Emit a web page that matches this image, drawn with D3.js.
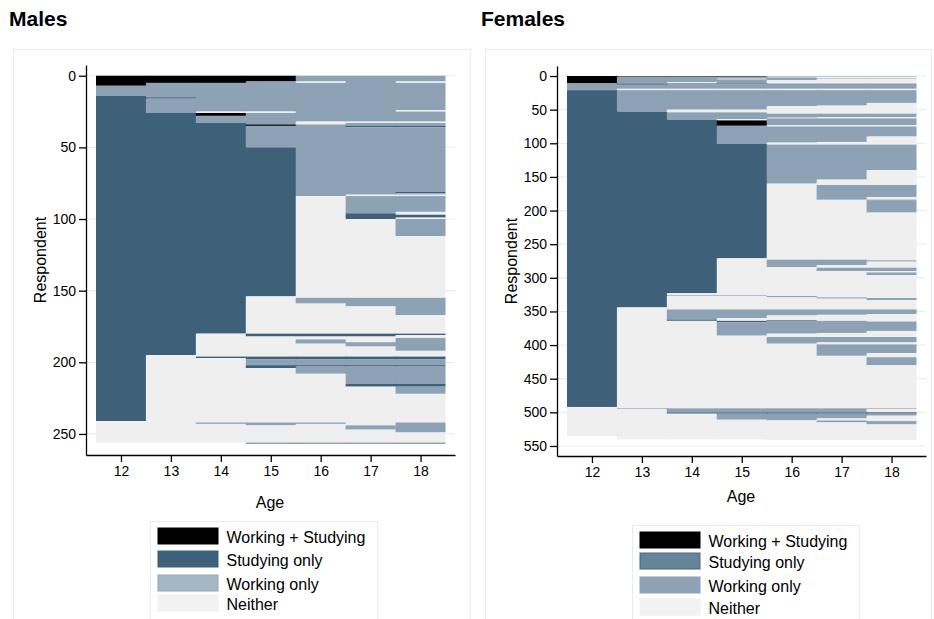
<!DOCTYPE html>
<html>
<head>
<meta charset="utf-8">
<script src="https://cdn.jsdelivr.net/npm/d3@7/dist/d3.min.js"></script>
<style>
  body { margin: 0; background: #fff; }
  svg text { font-family: "Liberation Sans", Arial, sans-serif; fill: #000; }
</style>
</head>
<body>
<svg id="chart" width="934" height="619"></svg>
<script>
// ages on the x axis
const ages = [12, 13, 14, 15, 16, 17, 18];

// state codes and their legend labels
const stateCodes = ["B", "S", "W", "N"];
const stateLabels = ["Working + Studying", "Studying only", "Working only", "Neither"];

// runs per age column: [state, last respondent (exclusive)]; rows after the last run are missing
const maleRuns = [
  [["B",7],["W",14],["S",241],["N",256]],
  [["B",5],["W",15],["S",16],["W",26],["S",195],["N",256]],
  [["B",5],["W",25],["N",26],["B",28],["W",33],["S",180],["N",196],["S",197],["N",242],["W",243],["N",256]],
  [["B",4],["W",25],["N",26],["W",34],["B",35],["W",50],["S",154],["N",180],["S",182],["N",196],["S",198],["W",202],["S",204],["N",242],["W",244],["N",256],["W",257]],
  [["W",4],["N",5],["W",32],["N",34],["W",84],["N",155],["W",159],["N",180],["S",182],["N",184],["W",187],["N",196],["S",198],["W",202],["S",203],["W",208],["N",242],["W",243],["N",256],["W",257]],
  [["W",32],["N",33],["W",35],["S",36],["W",83],["N",84],["W",96],["S",100],["N",155],["W",161],["N",180],["S",182],["N",186],["W",189],["N",196],["S",198],["W",202],["S",203],["W",215],["S",217],["N",244],["W",247],["N",256],["W",257]],
  [["W",4],["N",5],["W",24],["N",25],["W",32],["N",33],["W",35],["S",36],["W",81],["S",82],["W",83],["N",84],["W",95],["N",97],["S",99],["N",100],["W",112],["N",155],["W",167],["N",180],["S",181],["N",183],["W",192],["N",196],["S",198],["W",202],["S",203],["W",215],["S",217],["W",222],["N",242],["W",249],["N",256],["W",257]]
];

const femaleRuns = [
  [["B",11],["W",21],["S",492],["N",535]],
  [["B",1],["W",11],["S",13],["W",19],["N",21],["W",53],["S",344],["N",494],["W",495],["N",540]],
  [["B",1],["W",9],["N",11],["S",12],["W",19],["N",21],["W",50],["N",54],["W",65],["S",323],["N",326],["W",327],["N",347],["W",362],["S",364],["N",494],["W",500],["S",502],["N",540]],
  [["B",1],["W",4],["N",5],["W",11],["S",12],["W",19],["N",21],["W",50],["N",54],["W",64],["N",66],["B",74],["W",101],["S",271],["N",326],["W",327],["N",347],["W",360],["N",364],["S",366],["W",386],["N",494],["W",500],["S",502],["W",511],["N",540]],
  [["W",1],["N",2],["W",6],["N",11],["W",19],["N",21],["W",45],["N",56],["W",62],["N",63],["W",73],["N",75],["W",99],["N",102],["W",160],["N",273],["W",284],["N",327],["W",329],["N",347],["W",356],["N",363],["S",364],["W",383],["N",388],["W",398],["N",494],["W",500],["S",502],["W",512],["N",541]],
  [["W",1],["N",3],["W",4],["N",11],["W",19],["N",21],["W",44],["N",56],["W",61],["N",63],["W",73],["N",75],["W",98],["N",102],["W",154],["N",162],["W",184],["N",273],["W",281],["N",285],["W",290],["N",329],["W",331],["N",347],["W",355],["N",364],["W",382],["N",388],["W",396],["N",399],["W",416],["N",494],["W",500],["S",502],["W",509],["N",512],["W",515],["N",541]],
  [["W",1],["N",3],["W",4],["N",11],["W",19],["N",21],["W",40],["N",56],["W",61],["N",63],["W",73],["N",75],["W",90],["N",102],["W",140],["N",162],["W",180],["N",184],["S",185],["W",203],["N",274],["W",276],["N",285],["W",290],["N",292],["W",296],["N",330],["W",333],["N",347],["W",354],["N",365],["W",379],["N",388],["W",396],["N",399],["W",412],["N",418],["W",430],["N",494],["W",495],["N",500],["S",502],["W",505],["N",513],["W",518],["N",541]]
];

// y tick values
const maleTicks = [0, 50, 100, 150, 200, 250];
const femaleTicks = [0, 50, 100, 150, 200, 250, 300, 350, 400, 450, 500, 550];

const barColor = d3.scaleOrdinal()
  .domain(stateCodes)
  .range(["#000000", "#3e6179", "#8da2b5", "#efefef"]);

const svg = d3.select("#chart");

function drawPanel(p) {
  // panel frame
  svg.append("rect")
    .attr("x", p.frame[0]).attr("y", p.frame[1])
    .attr("width", p.frame[2]).attr("height", p.frame[3])
    .attr("fill", "none").attr("stroke", "#e4eded").attr("stroke-width", 1);

  svg.append("text")
    .attr("x", p.titleX).attr("y", 26)
    .style("font-size", "21px").style("font-weight", "bold")
    .text(p.title);

  const g = svg.append("g").attr("transform", `translate(${p.left},${p.top})`);

  const x = d3.scaleLinear().domain([11.3, 18.69]).range([0, 369]);
  const y = d3.scaleLinear().domain(p.yDomain).range([0, 390]);

  // gridlines
  g.append("g")
    .selectAll("line")
    .data(p.ticks)
    .join("line")
    .attr("x1", 0).attr("x2", 369)
    .attr("y1", d => y(d)).attr("y2", d => y(d))
    .attr("stroke", "#e6eff1").attr("stroke-width", 1.2);

  // sequence bars
  const cells = [];
  p.runs.forEach((runs, i) => {
    let start = 0;
    runs.forEach(([code, end]) => {
      cells.push({ age: ages[i], code: code, start: start, end: end, last: i === ages.length - 1 });
      start = end;
    });
  });

  // columns overlap a little so no seams show between ages
  g.append("g")
    .selectAll("rect")
    .data(cells)
    .join("rect")
    .attr("x", d => x(d.age - 0.5))
    .attr("width", d => x(d.age + 0.5) - x(d.age - 0.5) + (d.last ? 0 : 0.8))
    .attr("y", d => y(d.start))
    .attr("height", d => y(d.end) - y(d.start))
    .attr("fill", d => barColor(d.code));

  // axes
  const yAxis = g.append("g")
    .call(d3.axisLeft(y).tickValues(p.ticks).tickSize(7).tickSizeOuter(0).tickPadding(3));
  yAxis.selectAll("text").style("font-size", "14px");

  const xAxis = g.append("g")
    .attr("transform", "translate(0,390)")
    .call(d3.axisBottom(x).tickValues(ages).tickSize(7).tickSizeOuter(0).tickPadding(4));
  xAxis.selectAll("text").style("font-size", "14px");

  svg.selectAll(".domain, .tick line").attr("stroke", "#000").attr("stroke-width", 1.3);

  g.append("text")
    .attr("transform", `translate(${-40},195)rotate(-90)`)
    .attr("text-anchor", "middle")
    .style("font-size", "16px")
    .text("Respondent");

  g.append("text")
    .attr("x", 184).attr("y", p.ageY)
    .attr("text-anchor", "middle")
    .style("font-size", "16px")
    .text("Age");

  // legend
  const lg = svg.append("g").attr("transform", `translate(${p.legend[0]},${p.legend[1]})`);
  lg.append("rect")
    .attr("x", 0).attr("y", 0).attr("width", 227).attr("height", 110)
    .attr("fill", "#fff").attr("stroke", "#e4eded");

  const item = lg.selectAll("g.item")
    .data(stateLabels)
    .join("g")
    .attr("class", "item")
    .attr("transform", (d, i) => `translate(7,${p.legendRows[i]})`);

  item.append("rect")
    .attr("x", 0.5).attr("y", 0.5).attr("width", 60).attr("height", 16)
    .attr("fill", (d, i) => p.legendFill[i])
    .attr("stroke", (d, i) => p.legendStroke[i]);

  item.append("text")
    .attr("x", 69).attr("y", 15)
    .style("font-size", "16px")
    .text(d => d);
}

drawPanel({
  title: "Males", titleX: 9,
  frame: [13.5, 49.5, 457, 580],
  left: 86, top: 65,
  yDomain: [-7.5, 264.7],
  ticks: maleTicks,
  runs: maleRuns,
  ageY: 443,
  legend: [150.5, 521.5],
  legendRows: [6, 29, 53, 73],
  legendFill: ["#000000", "#3e6179", "#a5b6c5", "#f2f2f2"],
  legendStroke: ["#000000", "#3e6179", "#93a7b8", "#f2f2f2"]
});

drawPanel({
  title: "Females", titleX: 481,
  frame: [485.5, 49.5, 446, 580],
  left: 557, top: 66,
  yDomain: [-14.9, 564.9],
  ticks: femaleTicks,
  runs: femaleRuns,
  ageY: 436,
  legend: [632.5, 525.5],
  legendRows: [6, 27, 51, 73],
  legendFill: ["#000000", "#64849a", "#8da2b5", "#f2f2f2"],
  legendStroke: ["#000000", "#4a697f", "#8da2b5", "#f2f2f2"]
});
</script>
</body>
</html>
